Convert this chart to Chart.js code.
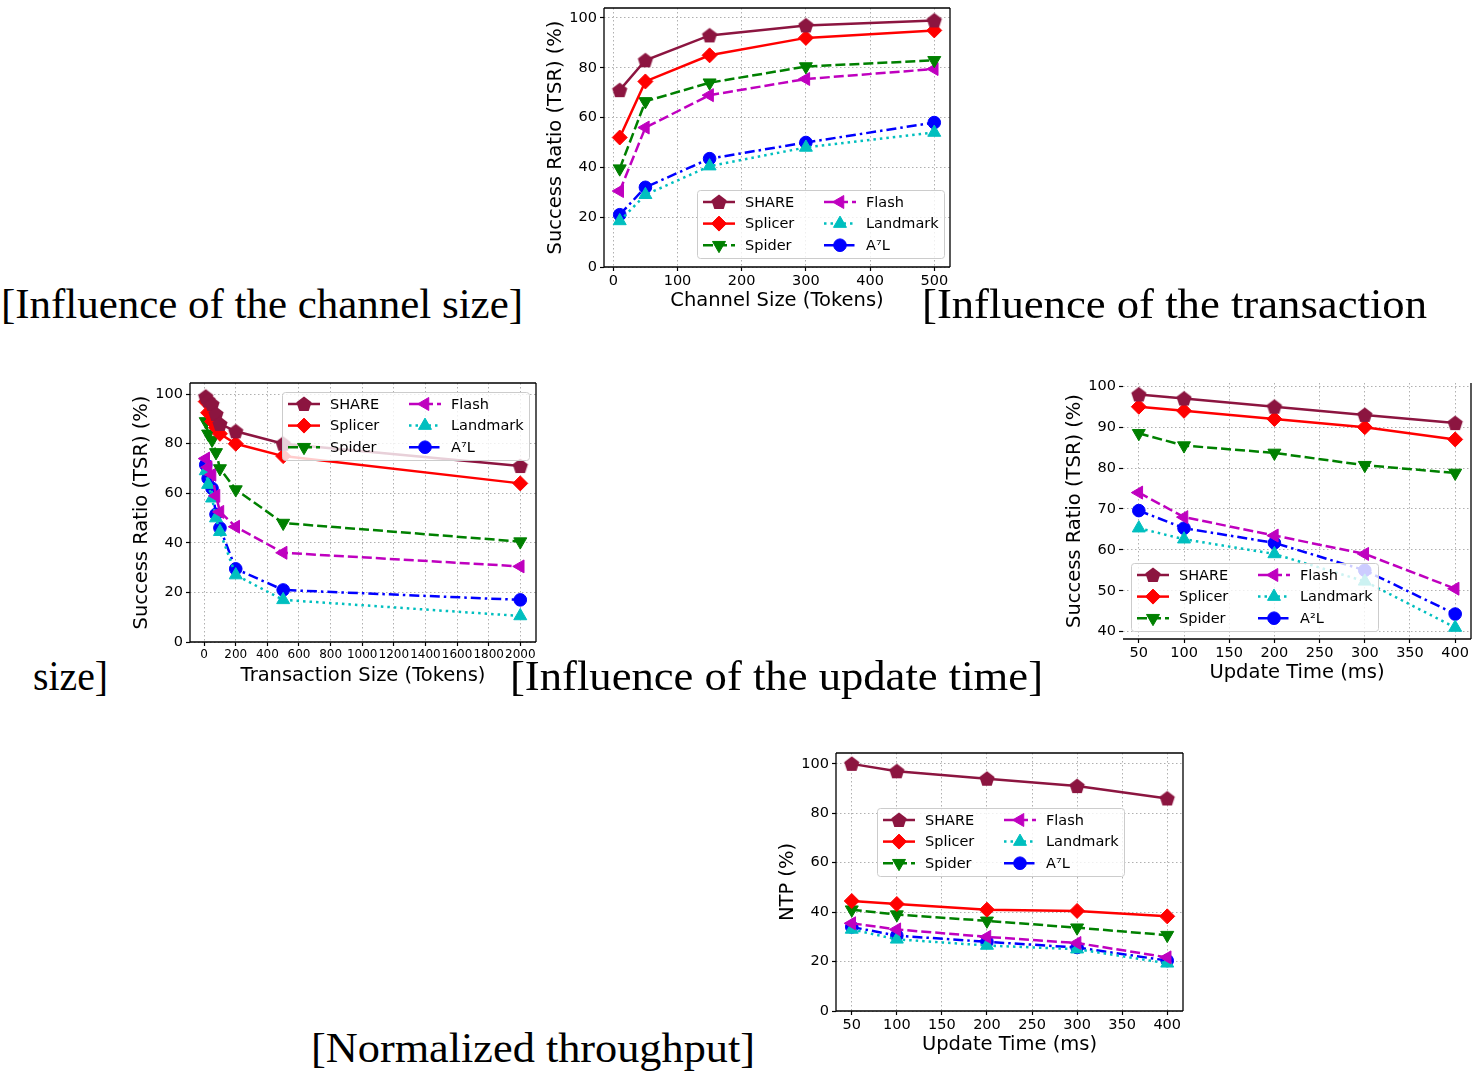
<!DOCTYPE html>
<html>
<head>
<meta charset="utf-8">
<script src="https://cdn.jsdelivr.net/npm/chart.js@4.4.1/dist/chart.umd.min.js"></script>
<style>
    html, body { margin: 0; padding: 0; background: #ffffff; }
    body { width: 1479px; height: 1073px; position: relative; overflow: hidden; }
    canvas { position: absolute; }
    .cap {
        position: absolute;
        font-family: "Liberation Serif", "DejaVu Serif", serif;
        font-size: 42px;
        line-height: 1;
        white-space: nowrap;
        color: #000;
        transform-origin: 0 0;
    }
</style>
</head>
<body>
<canvas id="channelChart"></canvas>
<canvas id="txChart"></canvas>
<canvas id="updateChart"></canvas>
<canvas id="ntpChart"></canvas>

<div class="cap" style="left:1px;top:283px" data-w="522">[Influence of the channel size]</div>
<div class="cap" style="left:922px;top:283px" data-w="505">[Influence of the transaction</div>
<div class="cap" style="left:33px;top:655px" data-w="75">size]</div>
<div class="cap" style="left:510px;top:655px" data-w="533">[Influence of the update time]</div>
<div class="cap" style="left:311px;top:1027px" data-w="444">[Normalized throughput]</div>

<script>
// ---- data ----
const seriesNames = ['SHARE', 'Splicer', 'Spider', 'Flash', 'Landmark', 'A\u2077L'];
const seriesNamesTsr = ['SHARE', 'Splicer', 'Spider', 'Flash', 'Landmark', 'A\u00b2L'];

// (a) channel size
const channelSizes = [10, 50, 150, 300, 500];
const channelShare = [71, 83, 93, 97, 99];
const channelSplicer = [52, 74.5, 85, 92, 95];
const channelSpider = [39.5, 66.5, 74, 80.5, 83];
const channelFlash = [30.5, 56, 69, 75.5, 79.5];
const channelLandmark = [18.5, 29, 40.5, 48, 54];
const channelA2L = [21, 32, 43.5, 50, 58];
const channelTicks = [0, 100, 200, 300, 400, 500];

// (b) transaction size
const txSizes = [10, 25, 50, 75, 100, 200, 500, 2000];
const txShare = [99, 97.5, 96, 92, 88, 85, 80, 71];
const txSplicer = [97, 92.5, 89, 86.5, 84, 80, 75, 64];
const txSpider = [89, 84, 81.5, 76.5, 70, 61.5, 48, 40.5];
const txFlash = [74, 70.5, 67.5, 59, 52.5, 46.5, 36, 30.5];
const txLandmark = [69, 63.5, 58, 50, 44.5, 27, 17, 10.5];
const txA2L = [71.5, 66, 62, 51.5, 46, 29.5, 21, 17];
const txTicks = [0, 200, 400, 600, 800, 1000, 1200, 1400, 1600, 1800, 2000];

// (c) update time, TSR
const updateTimes = [50, 100, 200, 300, 400];
const tsrShare = [98, 97, 95, 93, 91];
const tsrSplicer = [95, 94, 92, 90, 87];
const tsrSpider = [88.5, 85.5, 83.7, 80.7, 78.8];
const tsrFlash = [74, 68, 63.5, 59, 50.5];
const tsrLandmark = [65.3, 62.6, 59, 52.3, 41];
const tsrA2L = [69.6, 65.3, 61.7, 55, 44.3];
const tsrTicks = [40, 50, 60, 70, 80, 90, 100];

// (d) normalized throughput
const ntpShare = [100, 97, 94, 91, 86];
const ntpSplicer = [44.5, 43.3, 41, 40.5, 38.3];
const ntpSpider = [41, 39, 36.5, 33.7, 30.7];
const ntpFlash = [35.5, 33, 30, 27.5, 21.7];
const ntpLandmark = [33, 29, 26.5, 25, 19.3];
const ntpA2L = [34, 30.5, 28, 25.7, 20.4];

const timeTicks = [50, 100, 150, 200, 250, 300, 350, 400];
const pctTicks = [0, 20, 40, 60, 80, 100];

// ---- styling ----
Chart.defaults.font.family = '"DejaVu Sans", sans-serif';
Chart.defaults.color = '#000000';

function pentagonSprite(color, r) {
    const c = document.createElement('canvas');
    const s = Math.ceil(r * 2 + 2);
    c.width = c.height = s;
    const g = c.getContext('2d');
    g.fillStyle = color;
    g.beginPath();
    for (let k = 0; k < 5; k++) {
        const a = -Math.PI / 2 + k * 2 * Math.PI / 5;
        const px = s / 2 + r * Math.cos(a);
        const py = s / 2 + 0.6 + r * Math.sin(a);
        k ? g.lineTo(px, py) : g.moveTo(px, py);
    }
    g.closePath();
    g.fill();
    return c;
}

const seriesStyles = [
    { color: '#8c1540', dash: [], style: pentagonSprite('#8c1540', 8), rot: 0, r: 8 },
    { color: '#ff0000', dash: [], style: 'rectRot', rot: 0, r: 7.5 },
    { color: '#008000', dash: [10, 4], style: 'triangle', rot: 180, r: 7.5 },
    { color: '#bf00bf', dash: [10, 4], style: 'triangle', rot: -90, r: 7.5 },
    { color: '#00bfbf', dash: [2.5, 4], style: 'triangle', rot: 0, r: 7.5 },
    { color: '#0000ff', dash: [10, 4, 2.5, 4], style: 'circle', rot: 0, r: 6.3 }
];

function buildDatasets(xs, seriesList, names) {
    return seriesList.map((ys, i) => {
        const st = seriesStyles[i];
        return {
            label: names[i],
            data: xs.map((x, j) => ({ x: x, y: ys[j] })),
            borderColor: st.color,
            backgroundColor: st.color,
            borderWidth: 2.5,
            borderDash: st.dash,
            pointStyle: st.style,
            pointRotation: st.rot,
            pointRadius: st.r,
            pointHoverRadius: st.r,
            pointBackgroundColor: st.color,
            pointBorderColor: st.color,
            pointBorderWidth: 1,
            tension: 0,
            fill: false
        };
    });
}

// spines, matplotlib style
const framePlugin = {
    id: 'frame',
    afterDraw(chart, args, opts) {
        const { ctx, chartArea: a } = chart;
        const sides = opts.sides || ['top', 'right', 'bottom', 'left'];
        ctx.save();
        ctx.strokeStyle = '#000000';
        ctx.lineWidth = 1.3;
        ctx.beginPath();
        if (sides.includes('top')) { ctx.moveTo(a.left, a.top); ctx.lineTo(a.right, a.top); }
        if (sides.includes('right')) { ctx.moveTo(a.right, a.top); ctx.lineTo(a.right, a.bottom); }
        if (sides.includes('bottom')) { ctx.moveTo(a.left, a.bottom); ctx.lineTo(a.right, a.bottom); }
        if (sides.includes('left')) { ctx.moveTo(a.left, a.top); ctx.lineTo(a.left, a.bottom); }
        ctx.stroke();
        ctx.restore();
    }
};

// two-column legend in a rounded box
const boxLegend = {
    id: 'boxLegend',
    afterDatasetsDraw(chart, args, opts) {
        const { ctx, chartArea: a } = chart;
        const w = 247, h = 68;
        const x0 = opts.left != null ? a.left + opts.left : a.right - opts.right - w;
        const y0 = opts.top != null ? a.top + opts.top : a.bottom - opts.bottom - h;
        ctx.save();
        ctx.fillStyle = 'rgba(255,255,255,0.8)';
        ctx.strokeStyle = '#cccccc';
        ctx.lineWidth = 1;
        ctx.beginPath();
        ctx.roundRect(Math.round(x0) + 0.5, Math.round(y0) + 0.5, w, h, 3);
        ctx.fill();
        ctx.stroke();
        chart.data.datasets.forEach((ds, i) => {
            const col = Math.floor(i / 3), row = i % 3;
            const lx = x0 + 6 + col * 121;
            const ly = y0 + 12 + row * 21.6;
            ctx.strokeStyle = ds.borderColor;
            ctx.lineWidth = ds.borderWidth;
            ctx.setLineDash(ds.borderDash || []);
            ctx.beginPath();
            ctx.moveTo(lx, ly);
            ctx.lineTo(lx + 32, ly);
            ctx.stroke();
            ctx.setLineDash([]);
            ctx.fillStyle = ds.pointBackgroundColor;
            ctx.strokeStyle = ds.pointBorderColor;
            ctx.lineWidth = 1;
            Chart.helpers.drawPoint(ctx, {
                pointStyle: ds.pointStyle,
                rotation: ds.pointRotation || 0,
                radius: ds.pointRadius,
                borderWidth: 1
            }, lx + 16, ly);
            ctx.fillStyle = '#000000';
            ctx.font = '14.5px "DejaVu Sans"';
            ctx.textBaseline = 'middle';
            ctx.textAlign = 'left';
            ctx.fillText(ds.label, lx + 42, ly + 1);
        });
        ctx.restore();
    }
};

const Y_AXIS_W = 60, X_AXIS_H = 46, PAD_T = 6, PAD_R = 8;

function makeChart(id, spec) {
    const el = document.getElementById(id);
    const p = spec.plot;
    const w = p.R - p.L + Y_AXIS_W + PAD_R;
    const h = p.B - p.T + PAD_T + X_AXIS_H;
    el.width = w;
    el.height = h;
    el.style.left = (p.L - Y_AXIS_W) + 'px';
    el.style.top = (p.T - PAD_T) + 'px';
    el.style.width = w + 'px';
    el.style.height = h + 'px';

    const grid = {
        color: '#b0b0b0',
        lineWidth: 1,
        tickColor: '#000000',
        tickLength: 4,
        tickWidth: 1.2,
        drawTicks: true
    };
    const border = { display: false, dash: [1.5, 2.5] };
    const plain = v => String(v);

    return new Chart(el, {
        type: 'line',
        data: { datasets: buildDatasets(spec.xs, spec.series, spec.names) },
        options: {
            responsive: false,
            animation: false,
            devicePixelRatio: 1,
            layout: { padding: { top: PAD_T, right: PAD_R, left: 0, bottom: 0 } },
            plugins: {
                legend: { display: false },
                tooltip: { enabled: false },
                frame: { sides: spec.sides },
                boxLegend: spec.legend
            },
            scales: {
                x: {
                    type: 'linear',
                    min: spec.xRange[0],
                    max: spec.xRange[1],
                    grid: grid,
                    border: border,
                    ticks: {
                        autoSkip: false,
                        maxRotation: 0,
                        padding: 2,
                        callback: plain,
                        font: { size: spec.xTickSize || 14.5 }
                    },
                    afterBuildTicks: s => { s.ticks = spec.xTicks.map(v => ({ value: v })); },
                    afterFit: s => { s.height = X_AXIS_H; s.paddingLeft = 0; s.paddingRight = 0; },
                    title: { display: true, text: spec.xTitle, font: { size: 19.5 }, padding: 0 }
                },
                y: {
                    type: 'linear',
                    min: spec.yRange[0],
                    max: spec.yRange[1],
                    grid: grid,
                    border: border,
                    ticks: { padding: 3, callback: plain, font: { size: 14.5 } },
                    afterBuildTicks: s => { s.ticks = spec.yTicks.map(v => ({ value: v })); },
                    afterFit: s => { s.width = Y_AXIS_W; s.paddingTop = 0; s.paddingBottom = 0; },
                    title: { display: true, text: spec.yTitle, font: { size: 19.5 }, padding: 0 }
                }
            }
        },
        plugins: [framePlugin, boxLegend]
    });
}

makeChart('channelChart', {
    plot: { L: 604, T: 5, R: 951, B: 267 },
    xs: channelSizes,
    series: [channelShare, channelSplicer, channelSpider, channelFlash, channelLandmark, channelA2L],
    names: seriesNames,
    xRange: [-14.5, 524.5], yRange: [0, 104],
    xTicks: channelTicks, yTicks: pctTicks,
    xTitle: 'Channel Size (Tokens)', yTitle: 'Success Ratio (TSR) (%)',
    legend: { right: 6, bottom: 9 }
});

makeChart('txChart', {
    plot: { L: 190, T: 380, R: 537, B: 642 },
    xs: txSizes,
    series: [txShare, txSplicer, txSpider, txFlash, txLandmark, txA2L],
    names: seriesNames,
    xRange: [-89.5, 2099.5], yRange: [0, 104.5],
    xTicks: txTicks, yTicks: pctTicks, xTickSize: 12,
    xTitle: 'Transaction Size (Tokens)', yTitle: 'Success Ratio (TSR) (%)',
    legend: { right: 7, top: 9 }
});

makeChart('updateChart', {
    plot: { L: 1123, T: 380, R: 1472, B: 639 },
    xs: updateTimes,
    series: [tsrShare, tsrSplicer, tsrSpider, tsrFlash, tsrLandmark, tsrA2L],
    names: seriesNamesTsr,
    xRange: [32.5, 417.5], yRange: [38.2, 100.8],
    xTicks: timeTicks, yTicks: tsrTicks,
    xTitle: 'Update Time (ms)', yTitle: 'Success Ratio (TSR) (%)',
    sides: ['bottom', 'right'],
    legend: { left: 8, bottom: 8 }
});

makeChart('ntpChart', {
    plot: { L: 836, T: 750, R: 1184, B: 1011 },
    xs: updateTimes,
    series: [ntpShare, ntpSplicer, ntpSpider, ntpFlash, ntpLandmark, ntpA2L],
    names: seriesNames,
    xRange: [32.5, 417.5], yRange: [0, 104.4],
    xTicks: timeTicks, yTicks: pctTicks,
    xTitle: 'Update Time (ms)', yTitle: 'NTP (%)',
    legend: { left: 41, top: 55 }
});

// stretch the serif captions to the widths they take in the figure
document.querySelectorAll('.cap').forEach(el => {
    const target = parseFloat(el.dataset.w);
    const actual = el.getBoundingClientRect().width;
    if (actual > 0) el.style.transform = 'scaleX(' + (target / actual) + ')';
});
</script>
</body>
</html>
